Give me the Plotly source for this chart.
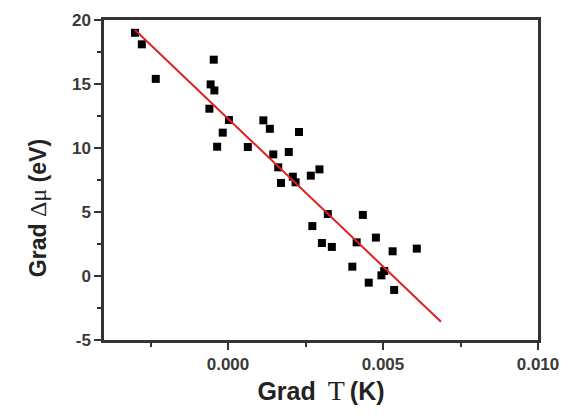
import plotly.graph_objects as go

grad_t = [-0.0030, -0.00278, -0.00233, -0.00046, -0.00056, -0.00044, -0.0006, -0.00017,
          0.00003, -0.00035, 0.00064, 0.00114, 0.00135, 0.00146, 0.00196, 0.00229,
          0.00162, 0.00171, 0.00209, 0.00218, 0.00267, 0.00295,
          0.00322, 0.00435, 0.00272, 0.00477, 0.00303, 0.00335, 0.00415, 0.00531,
          0.00609, 0.00401, 0.00504, 0.00495, 0.00454, 0.00536]
grad_mu = [19.0, 18.1, 15.4, 16.9, 14.97, 14.5, 13.07, 11.2,
           12.19, 10.1, 10.08, 12.16, 11.5, 9.5, 9.69, 11.25,
           8.49, 7.27, 7.76, 7.32, 7.84, 8.33,
           4.84, 4.77, 3.9, 3.0, 2.58, 2.27, 2.63, 1.93,
           2.14, 0.73, 0.39, 0.05, -0.52, -1.09]
fit_x = [-0.0030, 0.00687]
fit_y = [19.22, -3.57]

x_ticks = [0.0, 0.005, 0.010]
x_tick_labels = ["0.000", "0.005", "0.010"]
y_ticks = [-5, 0, 5, 10, 15, 20]
y_tick_labels = ["-5", "0", "5", "10", "15", "20"]

fig = go.Figure()
fig.add_trace(go.Scatter(x=grad_t, y=grad_mu, mode="markers",
                         marker=dict(symbol="square", size=8, color="black"),
                         showlegend=False))
fig.add_trace(go.Scatter(x=fit_x, y=fit_y, mode="lines",
                         line=dict(color="#e02020", width=2), showlegend=False))

axis_common = dict(showline=True, linecolor="#333", linewidth=2.5, mirror=True,
                   ticks="outside", tickwidth=2, tickcolor="#333", ticklen=7,
                   showgrid=False, zeroline=False, automargin=False,
                   tickfont=dict(family="Liberation Sans", size=17, color="#3a3a3a",
                                 weight="bold"))

sym = '<span style="font-family:Liberation Serif;font-weight:normal;font-size:{}px">{}</span>'
fig.update_xaxes(range=[-0.004, 0.010], tickvals=x_ticks, ticktext=x_tick_labels,
                 minor=dict(dtick=0.0025, tick0=0, ticks="outside", ticklen=4,
                            tickwidth=2, tickcolor="#333"),
                 title=dict(text="<b>Grad\u2009 " + sym.format(28, "T") + "\u2009(K)</b>",
                            font=dict(family="Liberation Sans", size=25, color="#222"),
                            standoff=10),
                 **axis_common)
fig.update_yaxes(range=[-5, 20], tickvals=y_ticks, ticktext=y_tick_labels,
                 minor=dict(dtick=2.5, tick0=0, ticks="outside", ticklen=4,
                            tickwidth=2, tickcolor="#333"),
                 **axis_common)

fig.add_annotation(text="<b>Grad " + sym.format(24, "Δμ") + " (eV)</b>",
                   xref="paper", yref="paper", x=-0.152, y=0.412,
                   xanchor="center", yanchor="middle", textangle=-90,
                   showarrow=False,
                   font=dict(family="Liberation Sans", size=23, color="#222"))

fig.update_layout(width=577, height=418, margin=dict(l=96, r=47, t=12, b=86),
                  plot_bgcolor="white", paper_bgcolor="white")
fig.write_html("out.html")
